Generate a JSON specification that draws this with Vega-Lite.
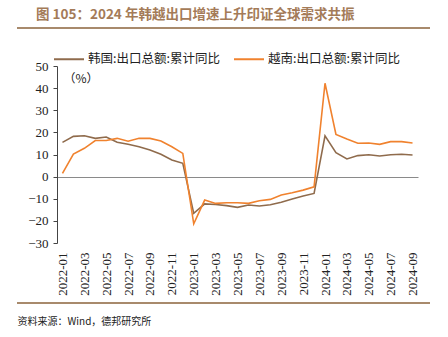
{
  "$schema": "https://vega.github.io/schema/vega-lite/v6.json",
  "width": 361,
  "height": 177,
  "autosize": "none",
  "padding": {"left": 57, "top": 66, "right": 30, "bottom": 94},
  "background": "white",
  "config": {"view": {"stroke": null}},
  "title": {
    "text": "图 105：2024 年韩越出口增速上升印证全球需求共振",
    "anchor": "start",
    "frame": "group",
    "dx": -21,
    "font": "Noto Sans CJK SC",
    "fontSize": 13.5,
    "fontWeight": "bold",
    "color": "#A47B58",
    "offset": 6
  },
  "datasets": {
    "trade": [
      {"m": "2022-01", "韩国:出口总额:累计同比": 15.5, "越南:出口总额:累计同比": 1.5},
      {"m": "2022-02", "韩国:出口总额:累计同比": 18.2, "越南:出口总额:累计同比": 10.2},
      {"m": "2022-03", "韩国:出口总额:累计同比": 18.5, "越南:出口总额:累计同比": 12.8},
      {"m": "2022-04", "韩国:出口总额:累计同比": 17.3, "越南:出口总额:累计同比": 16.3},
      {"m": "2022-05", "韩国:出口总额:累计同比": 17.9, "越南:出口总额:累计同比": 16.3},
      {"m": "2022-06", "韩国:出口总额:累计同比": 15.5, "越南:出口总额:累计同比": 17.3},
      {"m": "2022-07", "韩国:出口总额:累计同比": 14.6, "越南:出口总额:累计同比": 16.0},
      {"m": "2022-08", "韩国:出口总额:累计同比": 13.5, "越南:出口总额:累计同比": 17.3},
      {"m": "2022-09", "韩国:出口总额:累计同比": 12.0, "越南:出口总额:累计同比": 17.3},
      {"m": "2022-10", "韩国:出口总额:累计同比": 10.1, "越南:出口总额:累计同比": 16.1},
      {"m": "2022-11", "韩国:出口总额:累计同比": 7.5, "越南:出口总额:累计同比": 13.5},
      {"m": "2022-12", "韩国:出口总额:累计同比": 6.0, "越南:出口总额:累计同比": 10.5},
      {"m": "2023-01", "韩国:出口总额:累计同比": -16.6, "越南:出口总额:累计同比": -21.3},
      {"m": "2023-02", "韩国:出口总额:累计同比": -12.3, "越南:出口总额:累计同比": -10.6},
      {"m": "2023-03", "韩国:出口总额:累计同比": -12.6, "越南:出口总额:累计同比": -12.1},
      {"m": "2023-04", "韩国:出口总额:累计同比": -13.1, "越南:出口总额:累计同比": -11.8},
      {"m": "2023-05", "韩国:出口总额:累计同比": -13.9, "越南:出口总额:累计同比": -11.8},
      {"m": "2023-06", "韩国:出口总额:累计同比": -12.8, "越南:出口总额:累计同比": -12.1},
      {"m": "2023-07", "韩国:出口总额:累计同比": -13.3, "越南:出口总额:累计同比": -10.9},
      {"m": "2023-08", "韩国:出口总额:累计同比": -12.7, "越南:出口总额:累计同比": -10.3},
      {"m": "2023-09", "韩国:出口总额:累计同比": -11.6, "越南:出口总额:累计同比": -8.3},
      {"m": "2023-10", "韩国:出口总额:累计同比": -10.1, "越南:出口总额:累计同比": -7.3},
      {"m": "2023-11", "韩国:出口总额:累计同比": -8.8, "越南:出口总额:累计同比": -6.1},
      {"m": "2023-12", "韩国:出口总额:累计同比": -7.6, "越南:出口总额:累计同比": -4.6},
      {"m": "2024-01", "韩国:出口总额:累计同比": 18.4, "越南:出口总额:累计同比": 42.2},
      {"m": "2024-02", "韩国:出口总额:累计同比": 10.8, "越南:出口总额:累计同比": 19.1},
      {"m": "2024-03", "韩国:出口总额:累计同比": 8.0, "越南:出口总额:累计同比": 17.0},
      {"m": "2024-04", "韩国:出口总额:累计同比": 9.5, "越南:出口总额:累计同比": 15.1},
      {"m": "2024-05", "韩国:出口总额:累计同比": 9.9, "越南:出口总额:累计同比": 15.2},
      {"m": "2024-06", "韩国:出口总额:累计同比": 9.3, "越南:出口总额:累计同比": 14.6},
      {"m": "2024-07", "韩国:出口总额:累计同比": 9.9, "越南:出口总额:累计同比": 15.8},
      {"m": "2024-08", "韩国:出口总额:累计同比": 10.1, "越南:出口总额:累计同比": 15.8},
      {"m": "2024-09", "韩国:出口总额:累计同比": 9.8, "越南:出口总额:累计同比": 15.2}
    ]
  },
  "layer": [
    {
      "data": {"values": [{}]},
      "mark": {"type": "rule", "color": "#A88A6C", "strokeWidth": 2},
      "encoding": {"x": {"value": -40}, "x2": {"value": 373}, "y": {"value": -38}}
    },
    {
      "data": {"values": [{}]},
      "mark": {"type": "rule", "color": "#A88A6C", "strokeWidth": 2},
      "encoding": {"x": {"value": -40}, "x2": {"value": 373}, "y": {"value": 237}}
    },
    {
      "data": {"name": "trade"},
      "transform": [{"fold": ["韩国:出口总额:累计同比", "越南:出口总额:累计同比"], "as": ["series", "value"]}],
      "mark": {"type": "line", "strokeWidth": 1.6},
      "encoding": {
        "x": {
          "field": "m",
          "type": "ordinal",
          "scale": {"type": "point", "padding": 0.5},
          "axis": {
            "values": ["2022-01","2022-03","2022-05","2022-07","2022-09","2022-11","2023-01","2023-03","2023-05","2023-07","2023-09","2023-11","2024-01","2024-03","2024-05","2024-07","2024-09"],
            "labelAngle": -90,
            "labelFont": "Liberation Serif",
            "labelFontSize": 13,
            "labelColor": "#222222",
            "labelPadding": 9,
            "labelOverlap": false,
            "ticks": false,
            "domain": false,
            "title": "资料来源：Wind，德邦研究所",
            "titleFont": "Noto Sans CJK SC",
            "titleFontSize": 10,
            "titleFontWeight": "normal",
            "titleColor": "#222222",
            "titleAnchor": "start",
            "titleAlign": "left",
            "titleBaseline": "middle",
            "titleX": -40,
            "titleY": 78
          }
        },
        "y": {
          "field": "value",
          "type": "quantitative",
          "scale": {"domain": [-30, 50], "nice": false, "zero": false},
          "axis": {
            "values": [-30, -20, -10, 0, 10, 20, 30, 40, 50],
            "tickCount": 9,
            "labelOverlap": false,
            "labelFlush": false,
            "grid": true,
            "gridColor": "#8A8A8A",
            "gridWidth": 1,
            "gridOpacity": {"expr": "datum.value === 0 ? 1 : 0"},
            "domainColor": "#444444",
            "tickColor": "#444444",
            "tickSize": 4,
            "labelFont": "Liberation Serif",
            "labelFontSize": 13,
            "labelColor": "#222222",
            "labelPadding": 5,
            "title": "（%）",
            "titleAngle": 0,
            "titleFont": "Noto Sans CJK SC",
            "titleFontSize": 12,
            "titleFontWeight": "normal",
            "titleColor": "#222222",
            "titleAlign": "left",
            "titleBaseline": "middle",
            "titleX": 6,
            "titleY": 12
          }
        },
        "color": {
          "field": "series",
          "type": "nominal",
          "scale": {"domain": ["韩国:出口总额:累计同比", "越南:出口总额:累计同比"], "range": ["#8F6B4C", "#F0822E"]},
          "legend": {
            "title": null,
            "orient": "none",
            "direction": "horizontal",
            "legendX": -4,
            "legendY": -23,
            "symbolType": "stroke",
            "symbolSize": 900,
            "symbolStrokeWidth": 2,
            "labelFont": "Noto Sans CJK SC",
            "labelFontSize": 12.5,
            "labelColor": "#222222",
            "labelLimit": 300,
            "columnPadding": 10,
            "labelOffset": 3
          }
        }
      }
    }
  ]
}
